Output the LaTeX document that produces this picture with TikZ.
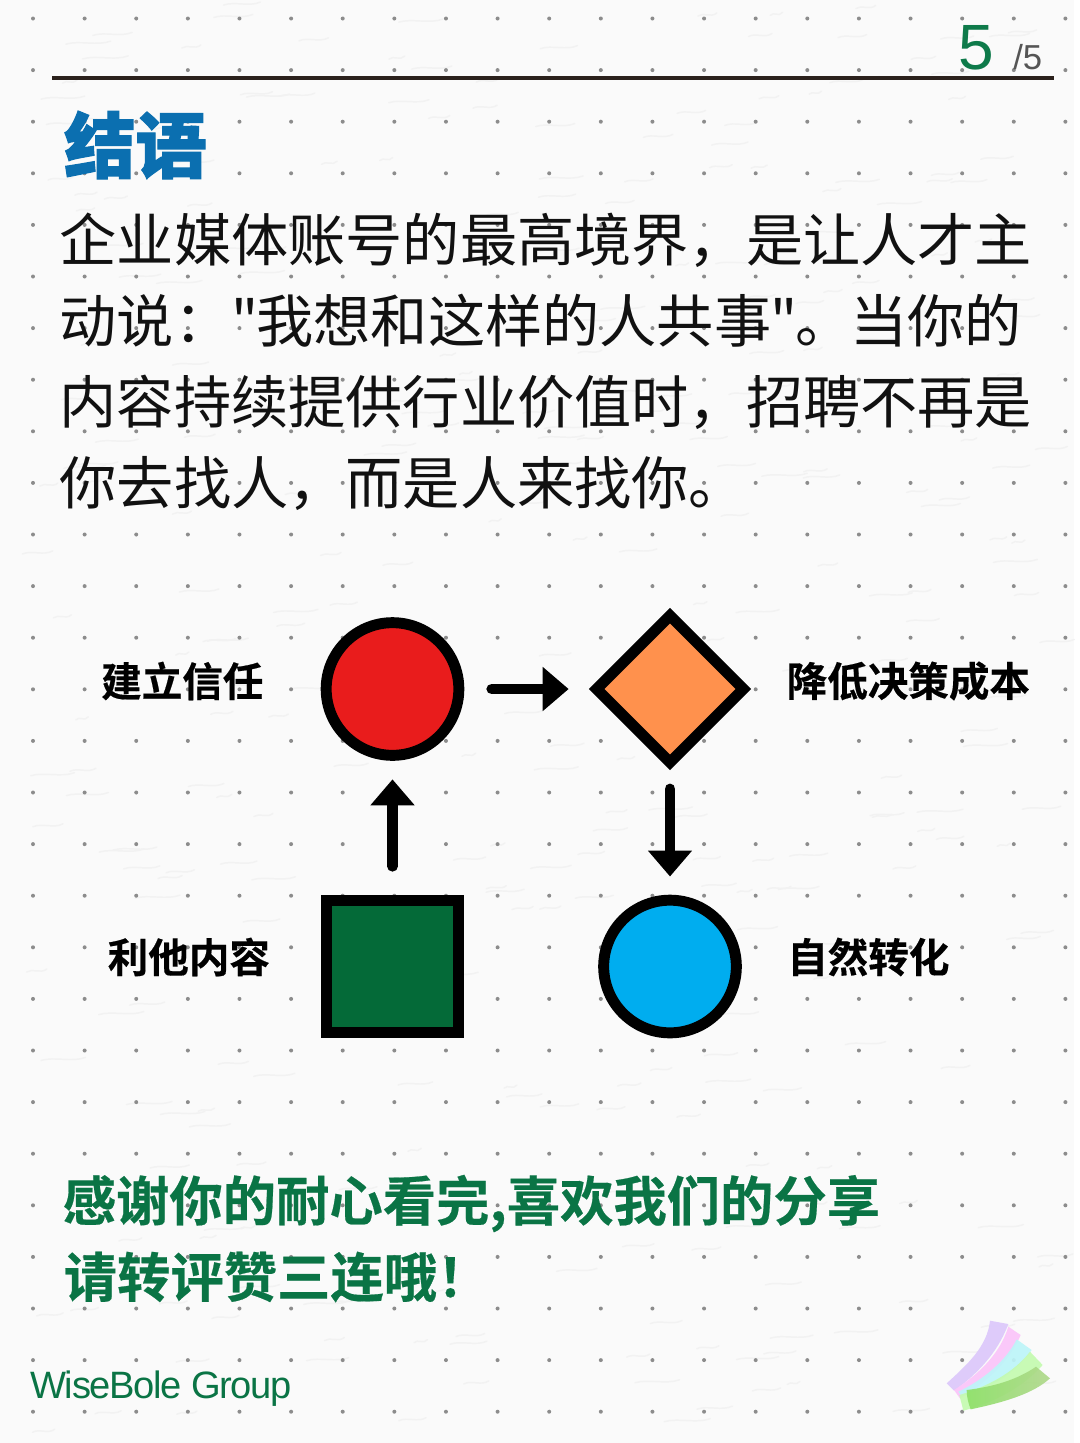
\documentclass[tikz,border=0pt]{standalone}
\usepackage{fontspec}
\usetikzlibrary{arrows.meta,shapes.geometric}
\setmainfont{Noto Sans CJK SC}
\newfontfamily\cjkreg{Noto Sans CJK SC}
\newfontfamily\cjkbold[FakeBold=0.4]{Noto Sans CJK SC Bold}
\newfontfamily\cjkblack[FakeBold=1.6]{Noto Sans CJK SC Black}
\newfontfamily\latinfont{Liberation Sans}
\definecolor{bgpaper}{HTML}{FAFAFA}
\definecolor{specks}{HTML}{F2F2F2}
\definecolor{dotgray}{HTML}{8C8C8C}
\definecolor{rulecol}{HTML}{2B211C}
\definecolor{titleblue}{HTML}{0B6FB0}
\definecolor{bodyink}{HTML}{111111}
\definecolor{pagegreen}{HTML}{0E7A4A}
\definecolor{thanksgreen}{HTML}{0A7445}
\definecolor{pagegray}{HTML}{555555}
\definecolor{redfill}{HTML}{E91C1C}
\definecolor{orangefill}{HTML}{FF914D}
\definecolor{greenfill}{HTML}{046A38}
\definecolor{bluefill}{HTML}{00ADEF}
\definecolor{noteA}{HTML}{DCC8FB}
\definecolor{noteB}{HTML}{FBC4F9}
\definecolor{noteC}{HTML}{BDF5F8}
\definecolor{noteD}{HTML}{C4FAB0}
\definecolor{noteEl}{HTML}{8FDF6A}
\definecolor{noteEr}{HTML}{B0D88C}
\tikzset{
  x=0.75pt,y=-0.75pt,
  shapeline/.style={draw=black,line width=8.2pt,inner sep=0pt,outer sep=0pt},
  flowarrow/.style={line width=8.2pt,line cap=round,-{Triangle[length=19.5pt,width=32pt]}},
  bodyline/.style={anchor=west,inner sep=0pt,text=bodyink,font=\cjkreg\fontsize{42.9pt}{50pt}\selectfont},
  labeltext/.style={anchor=west,inner sep=0pt,text=black,font=\cjkbold\fontsize{30.4pt}{36pt}\selectfont},
  thanks/.style={anchor=west,inner sep=0pt,text=thanksgreen,font=\cjkbold\fontsize{40pt}{48pt}\selectfont},
}
\begin{document}
\begin{tikzpicture}
\useasboundingbox (0,0) rectangle (1080,1443);
\fill[white] (0,0) rectangle (1080,1443);
\fill[bgpaper] (0,0) rectangle (1074,1443);
% paper texture
\pgfmathsetseed{41}
\foreach \i in {1,...,340}{
  \pgfmathsetmacro{\xa}{20+rnd*1020}
  \pgfmathsetmacro{\ya}{5+rnd*1430}
  \pgfmathsetmacro{\la}{12+rnd*34}
  \draw[specks,line width=1.1pt,line cap=round]
    (\xa,\ya) .. controls (\xa+\la*0.3,\ya-4) and (\xa+\la*0.7,\ya+2) .. (\xa+\la,\ya-3);
}
% dot grid
\foreach \c in {0,...,20}{
  \foreach \r in {0,...,27}{
    \fill[dotgray] (33+\c*51.62,18.5+\r*51.6) circle[radius=1.5pt];
  }
}
% header
\coordinate (ruleL) at (52,78);
\coordinate (ruleR) at (1054,78);
\draw[rulecol,line width=3pt] (ruleL) -- (ruleR);
\node[anchor=base west,inner sep=0pt,text=pagegreen,font=\latinfont\fontsize{48pt}{51pt}\selectfont] (pagenum) at (958,69) {5};
\node[anchor=base west,inner sep=0pt,text=pagegray,font=\latinfont\fontsize{26pt}{26pt}\selectfont] (pagetotal) at (1013,69) {/5};
% title
\node[anchor=west,inner sep=0pt,text=titleblue,font=\cjkblack\fontsize{53.5pt}{60pt}\selectfont] (title) at (64,145) {结语};
% body
\node[bodyline] (line1) at (59.5,240) {企业媒体账号的最高境界，是让人才主};
\node[bodyline] (line2) at (59.5,321) {动说："\kern-1.5pt 我想和这样的人共事\kern-0.5pt"\kern-2pt 。\kern-1.5pt 当你的};
\node[bodyline] (line3) at (59.5,402) {内容持续提供行业价值时，招聘不再是};
\node[bodyline] (line4) at (59.5,483) {你去找人，而是人来找你。};
% diagram
\node[shapeline,circle,fill=redfill,minimum size=99.5pt] (red) at (392.5,689) {};
\node[shapeline,diamond,aspect=1,fill=orangefill,minimum width=110pt,minimum height=110pt] (dia) at (670,689) {};
\node[shapeline,rectangle,fill=greenfill,minimum size=99.5pt] (sq) at (392.5,966.5) {};
\node[shapeline,circle,fill=bluefill,minimum size=99.5pt] (blue) at (670,966.5) {};
\draw[flowarrow,shorten <=24.75pt,shorten >=21pt] (red) -- (dia);
\draw[flowarrow,shorten <=25.5pt,shorten >=18pt] (sq) -- (red);
\draw[flowarrow,shorten <=20pt,shorten >=17.75pt] (dia) -- (blue);
\node[labeltext] (l1) at (101,681) {建立信任};
\node[labeltext] (l2) at (786.5,681) {降低决策成本};
\node[labeltext] (l3) at (107.5,957) {利他内容};
\node[labeltext] (l4) at (787,957) {自然转化};
% thanks
\node[thanks] (t1) at (62.5,1203.5) {感谢你的耐心看完,喜欢我们的分享};
\node[thanks] (t2) at (63.5,1277) {请转评赞三连哦！};
% brand
\node[anchor=west,inner sep=0pt,text=thanksgreen,font=\latinfont\fontsize{28.6pt}{32pt}\selectfont] (brand) at (30,1388.5) {\addfontfeatures{LetterSpace=-3.5}WiseBole Group};
% sticky notes
\begin{scope}[shift={(900,1290)},x=0.25pt,y=-0.25pt,opacity=0.92]
\fill[noteA] (270,92) -- (325,102) .. controls (300,170) and (250,240) .. (162,302) -- (140,280) .. controls (200,225) and (262,170) .. (270,92) -- cycle;
\fill[noteB] (325,110) -- (362,135) .. controls (330,210) and (270,270) .. (180,325) -- (162,300) .. controls (240,250) and (300,190) .. (325,110) -- cycle;
\fill[noteC] (350,148) -- (395,180) .. controls (350,240) and (290,290) .. (185,318) -- (175,305) .. controls (250,270) and (320,210) .. (350,148) -- cycle;
\fill[noteD] (390,185) -- (428,225) .. controls (370,290) and (290,335) .. (190,362) -- (178,315) .. controls (260,290) and (340,250) .. (390,185) -- cycle;
\shade[left color=noteEl,right color=noteEr] (408,230) -- (450,265) .. controls (400,310) and (320,335) .. (212,358) .. controls (205,340) and (200,320) .. (200,300) .. controls (280,290) and (350,270) .. (408,230) -- cycle;
\end{scope}
\end{tikzpicture}
\end{document}
